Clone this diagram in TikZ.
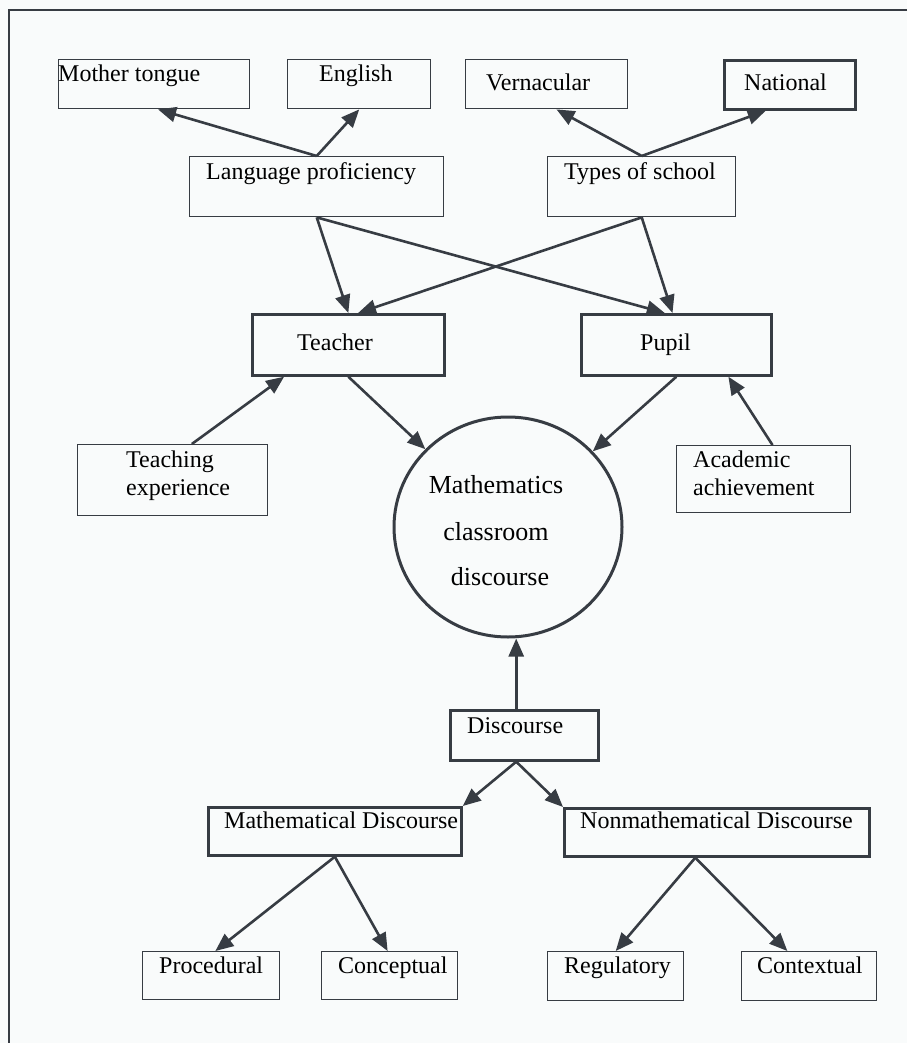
\documentclass[tikz,border=0pt]{standalone}
\usepackage{fontspec}
\setmainfont{Liberation Serif}
\usetikzlibrary{arrows.meta,shapes.geometric,calc}
\definecolor{ink}{RGB}{55,60,67}
\definecolor{paper}{RGB}{249,251,251}
\begin{document}
\begin{tikzpicture}[x=1pt,y=-1pt,
  box/.style={draw=ink, line width=1.4pt, rectangle, inner sep=0pt, anchor=north west},
  boxb/.style={box, line width=2.7pt},
  txt/.style={anchor=base west, inner sep=0pt, text=black, font=\fontsize{24pt}{28pt}\selectfont},
  ctxt/.style={anchor=base, inner sep=0pt, text=black, font=\fontsize{26pt}{30pt}\selectfont},
  arr/.style={draw=ink, line width=2.6pt, -{Triangle[length=18pt,width=15pt]}},
]
\useasboundingbox (0,0) rectangle (907,1043);
\fill[paper] (0,0) rectangle (907,1043);
\draw[ink, line width=2.4pt] (907,10) -- (9,10) -- (9,1043);

% top row
\node[box, minimum width=191pt, minimum height=49pt] (mt) at (58,59) {};
\node[txt] (mtt) at (58,82) {Mother tongue};
\node[box, minimum width=143pt, minimum height=49pt] (en) at (287,59) {};
\node[txt] (ent) at (319,82) {English};
\node[box, minimum width=162pt, minimum height=49pt] (vn) at (465,59) {};
\node[txt] (vnt) at (486,91) {Vernacular};
\node[boxb, minimum width=131pt, minimum height=49pt] (na) at (723,59) {};
\node[txt] (nat) at (744,91) {National};

% second row
\node[box, minimum width=254pt, minimum height=60pt] (lp) at (189,156) {};
\node[txt] (lpt) at (206,179) {Language proficiency};
\node[box, minimum width=188pt, minimum height=60pt] (ts) at (547,156) {};
\node[txt] (tst) at (564,179) {Types of school};

% teacher / pupil
\node[boxb, minimum width=192pt, minimum height=61pt] (tc) at (251,313) {};
\node[txt] (tct) at (297,350) {Teacher};
\node[boxb, minimum width=190pt, minimum height=61pt] (pu) at (580,313) {};
\node[txt] (put) at (640,350) {Pupil};

% side boxes
\node[box, minimum width=190pt, minimum height=71pt] (te) at (77,444) {};
\node[txt] (tet1) at (126,467) {Teaching};
\node[txt] (tet2) at (126,495) {experience};
\node[box, minimum width=174pt, minimum height=67pt] (aa) at (676,445) {};
\node[txt] (aat1) at (693,467) {Academic};
\node[txt] (aat2) at (693,495) {achievement};

% circle
\node[draw=ink, line width=3pt, ellipse, minimum width=228pt, minimum height=220pt, inner sep=0pt] (mcd) at (508,527) {};
\node[ctxt] (mcd1) at (496,493) {Mathematics};
\node[ctxt] (mcd2) at (496,540) {classroom};
\node[ctxt] (mcd3) at (500,585) {discourse};

% discourse
\node[boxb, minimum width=148pt, minimum height=50pt] (ds) at (449,709) {};
\node[txt] (dst) at (467,733) {Discourse};
\node[boxb, minimum width=253pt, minimum height=48pt] (md) at (207,806) {};
\node[txt] (mdt) at (224,828) {Mathematical Discourse};
\node[boxb, minimum width=305pt, minimum height=48pt] (nmd) at (563,807) {};
\node[txt] (nmdt) at (580,828) {Nonmathematical Discourse};

% leaves
\node[box, minimum width=137pt, minimum height=48pt] (pr) at (142,951) {};
\node[txt] (prt) at (159,973) {Procedural};
\node[box, minimum width=136pt, minimum height=48pt] (co) at (321,951) {};
\node[txt] (cot) at (338,973) {Conceptual};
\node[box, minimum width=136pt, minimum height=49pt] (rg) at (547,951) {};
\node[txt] (rgt) at (564,973) {Regulatory};
\node[box, minimum width=135pt, minimum height=49pt] (cx) at (741,951) {};
\node[txt] (cxt) at (757,973) {Contextual};

% connectors
\draw[arr] (lp.north) -- ($(mt.south west)!0.52!(mt.south east)$);
\draw[arr] (lp.north) -- (en.south);
\draw[arr] (ts.north) -- ($(vn.south west)!0.56!(vn.south east)$);
\draw[arr] (ts.north) -- ($(na.south west)!0.32!(na.south east)$);
\draw[arr] (lp.south) -- (tc.north);
\draw[arr] (lp.south) -- ($(pu.north west)!0.44!(pu.north east)$);
\draw[arr] (ts.south) -- ($(tc.north west)!0.55!(tc.north east)$);
\draw[arr] (ts.south) -- ($(pu.north west)!0.48!(pu.north east)$);
\draw[arr] ($(te.north west)!0.6!(te.north east)$) -- ($(tc.south west)!0.17!(tc.south east)$);
\draw[arr] (tc.south) -- (mcd);
\draw[arr] (pu.south) -- (mcd);
\draw[arr] ($(aa.north west)!0.55!(aa.north east)$) -- ($(pu.south west)!0.77!(pu.south east)$);
\coordinate (dtop) at ($(ds.north west)!0.446!(ds.north east)$);
\draw[arr] (dtop) -- (dtop |- mcd.south);
\coordinate (dbot) at ($(ds.south west)!0.446!(ds.south east)$);
\draw[arr] (dbot) -- (md.north east);
\draw[arr] (dbot) -- (nmd.north west);
\draw[arr] (md.south) -- ($(pr.north west)!0.53!(pr.north east)$);
\draw[arr] (md.south) -- ($(co.north west)!0.485!(co.north east)$);
\coordinate (nbot) at ($(nmd.south west)!0.43!(nmd.south east)$);
\draw[arr] (nbot) -- ($(rg.north west)!0.5!(rg.north east)$);
\draw[arr] (nbot) -- ($(cx.north west)!0.34!(cx.north east)$);
\end{tikzpicture}
\end{document}
